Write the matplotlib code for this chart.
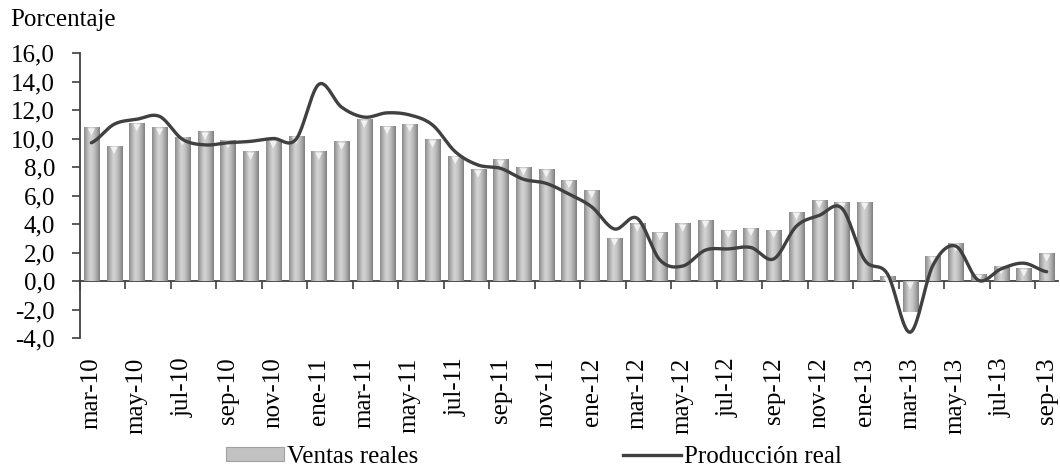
import numpy as np
import matplotlib.pyplot as plt
import matplotlib.transforms as mtransforms
from matplotlib.colors import LinearSegmentedColormap
from matplotlib.lines import Line2D
from matplotlib.patches import Patch, Rectangle
from matplotlib.ticker import FuncFormatter

plt.rcParams['font.family'] = ['Liberation Serif', 'DejaVu Serif']

months = ['mar', 'abr', 'may', 'jun', 'jul', 'ago', 'sep', 'oct', 'nov', 'dic', 'ene', 'feb']
meses = []
for k in range(43):
    m = months[k % 12]
    year = 10 + (k + 2) // 12
    meses.append(f'{m}-{year}')

ventas = [10.8, 9.5, 11.1, 10.8, 10.1, 10.5, 9.9, 9.1, 9.9, 10.2,
          9.1, 9.8, 11.35, 10.9, 11.05, 9.95, 8.8, 7.85, 8.55, 8.0,
          7.85, 7.1, 6.4, 3.05, 4.05, 3.45, 4.05, 4.3, 3.6, 3.75,
          3.6, 4.87, 5.7, 5.57, 5.57, 0.35, -2.15, 1.75, 2.65, 0.5,
          1.05, 0.9, 1.95]

produccion = [9.7, 11.0, 11.35, 11.55, 9.95, 9.55, 9.7, 9.8, 10.0, 9.95,
              13.8, 12.2, 11.5, 11.8, 11.65, 10.95, 9.07, 8.14, 7.9, 7.14,
              6.85, 6.1, 5.2, 3.65, 4.4, 1.47, 1.05, 2.17, 2.25, 2.35,
              1.55, 3.85, 4.6, 5.1, 1.47, 0.5, -3.6, 1.1, 2.45, 0.05,
              0.85, 1.25, 0.65]


def smooth(y, n=20):
    # Catmull-Rom style Bezier through each point
    p = np.asarray(y, dtype=float)
    pts = np.concatenate([[p[0]], p, [p[-1]]])
    xs, ys = [], []
    t = np.linspace(0, 1, n, endpoint=False)
    for i in range(len(p) - 1):
        p0, p1, p2, p3 = pts[i], pts[i + 1], pts[i + 2], pts[i + 3]
        c1 = p1 + (p2 - p0) / 6
        c2 = p2 - (p3 - p1) / 6
        b = (1 - t) ** 3 * p1 + 3 * (1 - t) ** 2 * t * c1 + 3 * (1 - t) * t ** 2 * c2 + t ** 3 * p2
        xs.extend(i + t)
        ys.extend(b)
    xs.append(len(p) - 1)
    ys.append(p[-1])
    return np.array(xs), np.array(ys)


fig = plt.figure(figsize=(10.6, 4.7), dpi=100)
ax = fig.add_axes([80 / 1060, 1 - 338 / 470, 978 / 1060, 285 / 470])

x = np.arange(len(ventas))
width = 0.66
cyl = LinearSegmentedColormap.from_list(
    'cyl', ['#8a8a8a', '#b4b4b4', '#d4d4d4', '#c6c6c6', '#a8a8a8', '#7e7e7e'])
grad = np.linspace(0, 1, 64).reshape(1, -1)

for xi, v in zip(x, ventas):
    lo, hi = min(0, v), max(0, v)
    im = ax.imshow(grad, extent=[xi - width / 2, xi + width / 2, lo, hi],
                   aspect='auto', cmap=cyl, zorder=2, interpolation='bilinear')
    clip = Rectangle((xi - width / 2, lo), width, hi - lo, transform=ax.transData)
    im.set_clip_path(clip)

# light bevel cap at the top of each bar
cap = mtransforms.offset_copy(ax.transData, fig=fig, x=0, y=-3.5, units='points')
ax.scatter(x, [max(v, 0) for v in ventas], marker='v', s=28, color='#f2f2f2',
           edgecolors='none', zorder=3, transform=cap)

sx, sy = smooth(produccion)
ax.plot(sx, sy, color='#404040', lw=2.4, zorder=4, solid_capstyle='round')

ax.set_xlim(-0.5, len(ventas) - 0.5)
ax.set_ylim(-4, 16)
ax.set_yticks(np.arange(-4, 17, 2))
ax.yaxis.set_major_formatter(FuncFormatter(lambda v, _: f'{v:.1f}'.replace('.', ',')))
ax.tick_params(axis='y', labelsize=18, length=6, width=1.2, color='#404040', pad=12)

ax.set_xticks(x[::2])
ax.set_xticklabels(meses[::2], rotation=90, fontsize=18)
ax.tick_params(axis='x', length=0, pad=14)

for s in ['top', 'right', 'bottom']:
    ax.spines[s].set_visible(False)
ax.spines['left'].set_color('#404040')
ax.spines['left'].set_linewidth(1.3)

# zero line with category tick marks
sec = ax.secondary_xaxis(0.2)
sec.set_xticks(np.arange(-0.5, len(ventas) - 0.5, 2))
sec.set_xticklabels([])
sec.tick_params(length=6, width=1.2, color='#404040', direction='out')
sec.spines['bottom'].set_color('#404040')
sec.spines['bottom'].set_linewidth(1.3)

fig.text(10 / 1060, 1 - 20 / 470, 'Porcentaje', fontsize=18, va='center', ha='left')

handles = [Patch(facecolor='#c2c2c2', edgecolor='#a0a0a0', lw=0.8),
           Line2D([0], [0], color='#404040', lw=2.4)]
fig.legend(handles, ['Ventas reales', 'Producción real'], ncol=2, frameon=False,
           fontsize=18, loc='center', bbox_to_anchor=(534 / 1060, 1 - 457 / 470),
           handlelength=2.3, handletextpad=0.12, columnspacing=8.2, handleheight=0.5,
           borderpad=0)

fig.savefig('out.png', dpi=100)
